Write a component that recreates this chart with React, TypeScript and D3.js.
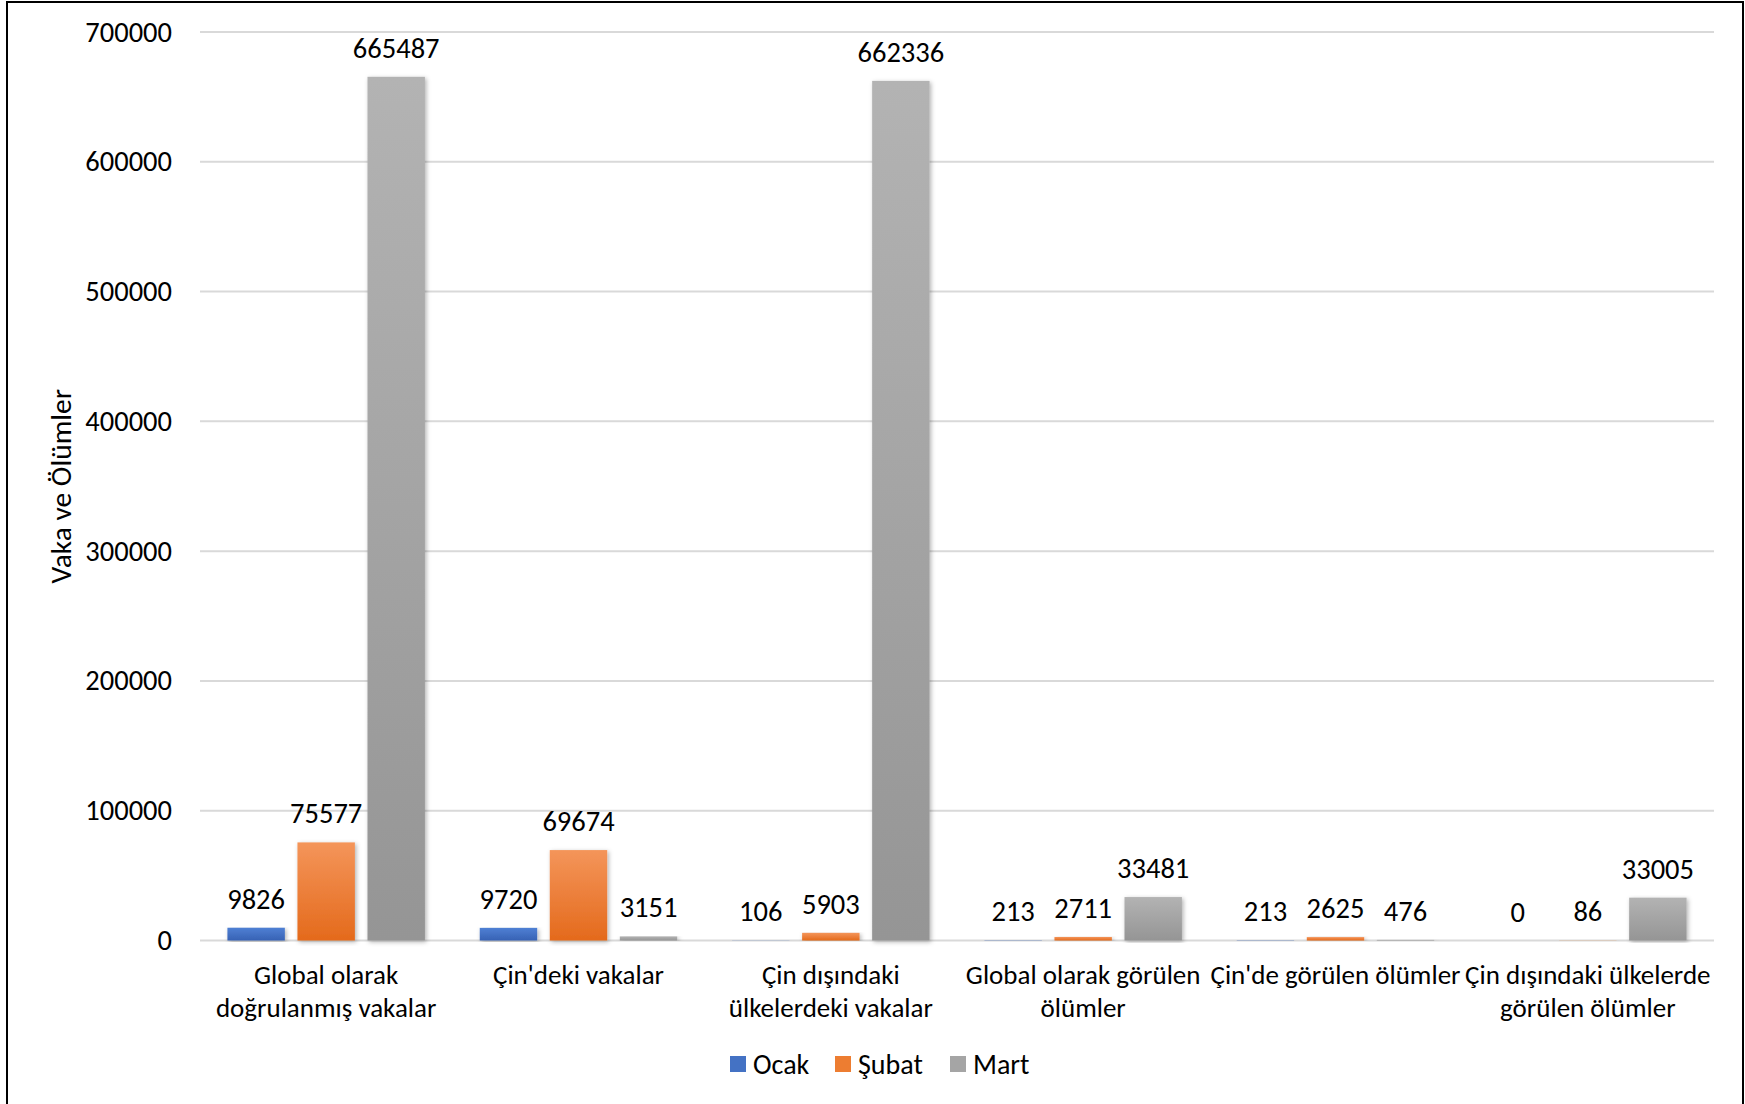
import React from "react";
import * as d3 from "d3";

const categories: string[][] = [
  ["Global olarak", "doğrulanmış vakalar"],
  ["Çin'deki vakalar"],
  ["Çin dışındaki", "ülkelerdeki vakalar"],
  ["Global olarak görülen", "ölümler"],
  ["Çin'de görülen ölümler"],
  ["Çin dışındaki ülkelerde", "görülen ölümler"],
];
const seriesNames = ["Ocak", "Şubat", "Mart"];
const ocak = [9826, 9720, 106, 213, 213, 0];
const subat = [75577, 69674, 5903, 2711, 2625, 86];
const mart = [665487, 3151, 662336, 33481, 476, 33005];
const yTicks = [0, 100000, 200000, 300000, 400000, 500000, 600000, 700000];
const yTitle = "Vaka ve Ölümler";

const W = 1745;
const H = 1104;
const FONT = "Carlito, Lato, 'Noto Sans', sans-serif";
const colors = [
  { top: "#4f80d4", bottom: "#3762b4", legend: "#4472c4" },
  { top: "#f4955a", bottom: "#e46a1c", legend: "#ed7d31" },
  { top: "#b3b3b3", bottom: "#959595", legend: "#a5a5a5" },
];

const NUM_FS = 28.5;
const CAT_FS = 27;

export default function App() {
  const series = [ocak, subat, mart];
  const left = 200;
  const right = 1714;
  const top = 32;
  const bottom = 940.5;
  const y = d3.scaleLinear().domain([0, 700000]).range([bottom, top]);
  const x0 = d3
    .scaleBand<number>()
    .domain(d3.range(categories.length))
    .range([left, right])
    .paddingInner(0)
    .paddingOuter(0);
  const bw = x0.bandwidth();
  const groupW = 197.5;
  const x1 = d3
    .scaleBand<number>()
    .domain([0, 1, 2])
    .range([(bw - groupW) / 2, (bw + groupW) / 2])
    .paddingInner(0.18)
    .paddingOuter(0);

  const legendItems = [
    { sq: 730, tx: 753 },
    { sq: 835, tx: 858 },
    { sq: 950, tx: 973 },
  ];

  return (
    <svg
      width={W}
      height={H}
      style={{ position: "absolute", left: 0, top: 0, background: "#fff" }}
      fontFamily={FONT}
    >
      <defs>
        {colors.map((c, i) => (
          <linearGradient key={i} id={`g${i}`} x1="0" y1="0" x2="0" y2="1">
            <stop offset="0%" stopColor={c.top} />
            <stop offset="100%" stopColor={c.bottom} />
          </linearGradient>
        ))}
        <filter id="sh" x="-20%" y="-5%" width="140%" height="110%">
          <feDropShadow dx="1.5" dy="1.5" stdDeviation="2" floodColor="#000" floodOpacity="0.3" />
        </filter>
      </defs>
      <rect x={0} y={0} width={W} height={H} fill="#fff" />
      <rect x={7} y={2} width={1736} height={1110} fill="none" stroke="#000" strokeWidth={2} />

      {yTicks.map((t) => (
        <g key={t}>
          <line x1={left} x2={right} y1={y(t)} y2={y(t)} stroke="#d9d9d9" strokeWidth={2} />
          <text
            x={172}
            y={y(t)}
            textAnchor="end"
            dominantBaseline="central"
            fontSize={NUM_FS}
            fill="#000"
          >
            {t}
          </text>
        </g>
      ))}

      <text
        transform={`translate(61,${(top + bottom) / 2}) rotate(-90)`}
        textAnchor="middle"
        dominantBaseline="central"
        fontSize={29.5}
        fill="#000"
      >
        {yTitle}
      </text>

      {categories.map((cat, ci) => (
        <g key={ci} transform={`translate(${x0(ci)},0)`}>
          {series.map((s, si) => {
            const v = s[ci];
            const bx = x1(si)!;
            const by = y(v);
            const h = bottom - by;
            return (
              <g key={si}>
                {h > 0 && (
                  <rect
                    x={bx}
                    y={by}
                    width={x1.bandwidth()}
                    height={h}
                    fill={`url(#g${si})`}
                    filter="url(#sh)"
                  />
                )}
                <text
                  x={bx + x1.bandwidth() / 2}
                  y={by - 19}
                  textAnchor="middle"
                  fontSize={NUM_FS}
                  fill="#000"
                >
                  {v}
                </text>
              </g>
            );
          })}
          {cat.map((line, li) => (
            <text
              key={li}
              x={bw / 2}
              y={974 + li * 33.4}
              textAnchor="middle"
              dominantBaseline="central"
              fontSize={CAT_FS}
              fill="#000"
            >
              {line}
            </text>
          ))}
        </g>
      ))}

      {seriesNames.map((n, i) => (
        <g key={n}>
          <rect x={legendItems[i].sq} y={1056} width={16} height={16} fill={colors[i].legend} />
          <text
            x={legendItems[i].tx}
            y={1064}
            dominantBaseline="central"
            fontSize={28}
            fill="#000"
          >
            {n}
          </text>
        </g>
      ))}
    </svg>
  );
}
